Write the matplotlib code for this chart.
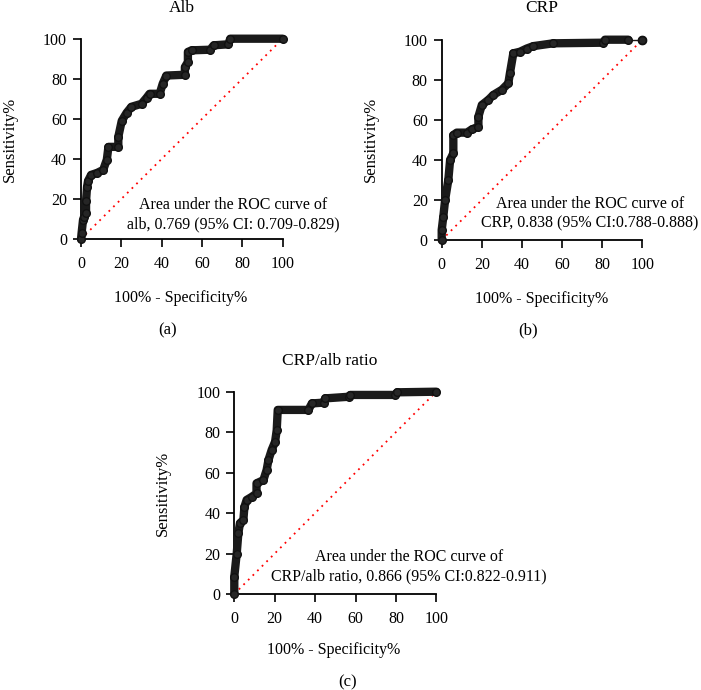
import matplotlib
matplotlib.use("Agg")
import matplotlib.pyplot as plt

# ROC curve vertices (x = 100% - specificity, y = sensitivity)
alb_fpr = [0, 0.3, 1, 1.5, 2.5, 2.5, 3, 3.5, 5, 8, 11, 12.8, 13.6, 18.5, 18.5, 20.2, 22.6,
           25, 30, 32.5, 34, 39, 40.5, 42.3, 51.5, 51.5, 53, 53, 54.8, 64, 65.8, 73, 74, 100]
alb_tpr = [0, 3, 9.5, 11, 13, 19, 26, 29, 32, 33, 34.5, 39.6, 46, 46, 51, 59, 63,
           66, 67.5, 70.5, 72.5, 72.5, 77.5, 81.6, 82, 85.8, 88.4, 93.4, 94.2, 94.5, 96.7, 97.2, 100, 100]

crp_fpr = [0, 0, 0.8, 1.7, 3.3, 4.2, 5.8, 5.8, 7.5, 12.5, 15, 18.3, 18.3, 20, 23.3, 25.7,
           30, 33.2, 34, 35.7, 39, 42.4, 45.7, 55.6, 80.6, 81.4, 93, 100]
crp_tpr = [0, 5, 11.6, 20, 30, 40, 43.3, 52.4, 53.6, 53.6, 55.2, 56.6, 61.6, 67.4, 70, 72.4,
           75, 78.2, 83.2, 93.2, 94, 95.6, 96.8, 98.2, 98.5, 100, 100, 100]

ratio_fpr = [0, 0, 1.2, 2, 2.8, 4.5, 5, 6.1, 8.6, 11, 11, 14.4, 16, 16.9, 18.5, 20.2, 21,
             21.5, 36.7, 38.4, 44.2, 45, 56.6, 57.4, 79.8, 80.6, 100]
ratio_tpr = [0, 8.6, 20, 30, 35, 36.6, 43, 46.5, 48, 49.7, 54.7, 56.3, 61.3, 66.2, 71.2, 75.3, 81,
             91, 91, 94.2, 94.6, 96.7, 97.5, 98.4, 98.4, 99.7, 100]

titles = ["Alb", "CRP", "CRP/alb ratio"]
auc_text = ["Area under the ROC curve of\nalb, 0.769 (95% CI: 0.709-0.829)",
            "Area under the ROC curve of\nCRP, 0.838 (95% CI:0.788-0.888)",
            "Area under the ROC curve of\nCRP/alb ratio, 0.866 (95% CI:0.822-0.911)"]
panel_tags = ["(a)", "(b)", "(c)"]
ticks = [0, 20, 40, 60, 80, 100]

plt.rcParams["font.family"] = "Liberation Serif"

W, H = 701, 690
fig = plt.figure(figsize=(W / 100, H / 100), dpi=100)


def px(x, y):
    return x / W, 1 - y / H


# axes boxes in pixels: left, top, right, bottom
boxes = [(81, 38.7, 282.7, 239), (441.7, 39.7, 642.3, 240), (234.3, 391.7, 436.3, 594)]
title_pos = [(181.5, 8), (542, 8), (330, 361)]
xlab_pos = [(181, 298), (542, 299), (334, 650)]
ylab_pos = [(10, 139), (371, 139), (163, 493)]
tag_pos = [(168, 330), (528, 330), (348, 682)]
auc_pos = [(233.5, 215), (590, 214), (409, 567)]

curves = [(alb_fpr, alb_tpr), (crp_fpr, crp_tpr), (ratio_fpr, ratio_tpr)]
ink = "#1a1a1a"

for i, (fx, ty) in enumerate(curves):
    l, t, r, b = boxes[i]
    ax = fig.add_axes([l / W, 1 - b / H, (r - l) / W, (b - t) / H])
    ax.plot([0, 100], [0, 100], color="red", lw=1.3, ls=(0, (1, 2.6)), zorder=1)
    if i == 1:
        # thick band stops before the last point, then a thin line to the end marker
        ax.plot(fx[:-1], ty[:-1], color=ink, lw=6, solid_joinstyle="round",
                solid_capstyle="round", clip_on=False, zorder=3)
        ax.plot(fx[-2:], ty[-2:], color=ink, lw=1, clip_on=False, zorder=3)
        ax.plot(fx[-1:], ty[-1:], "o", color=ink, ms=6, clip_on=False, zorder=4)
    else:
        ax.plot(fx, ty, color=ink, lw=6, solid_joinstyle="round",
                solid_capstyle="round", clip_on=False, zorder=3)
    ax.plot(fx, ty, "o", color="#262626", mec="#111111", ms=5.5, clip_on=False, zorder=4)

    ax.set_xlim(0, 100)
    ax.set_ylim(0, 100)
    ax.set_xticks(ticks)
    ax.set_yticks(ticks)
    ax.spines["top"].set_visible(False)
    ax.spines["right"].set_visible(False)
    for s in ["left", "bottom"]:
        ax.spines[s].set_linewidth(1.3)
    ax.tick_params(direction="out", length=6, width=1.2, labelsize=11.5, pad=4)
    ax.tick_params(axis="x", pad=6)

    fig.text(*px(*title_pos[i]), titles[i], ha="center", va="center", fontsize=12.5)
    fig.text(*px(*xlab_pos[i]), "100% - Specificity%", ha="center", va="center", fontsize=11.5)
    fig.text(*px(*ylab_pos[i]), "Sensitivity%", ha="center", va="center",
             rotation=90, fontsize=12)
    fig.text(*px(*tag_pos[i]), panel_tags[i], ha="center", va="center", fontsize=12)
    fig.text(*px(*auc_pos[i]), auc_text[i], ha="center", va="center", fontsize=11.5,
             linespacing=1.3)

fig.savefig("out.png", dpi=100)
